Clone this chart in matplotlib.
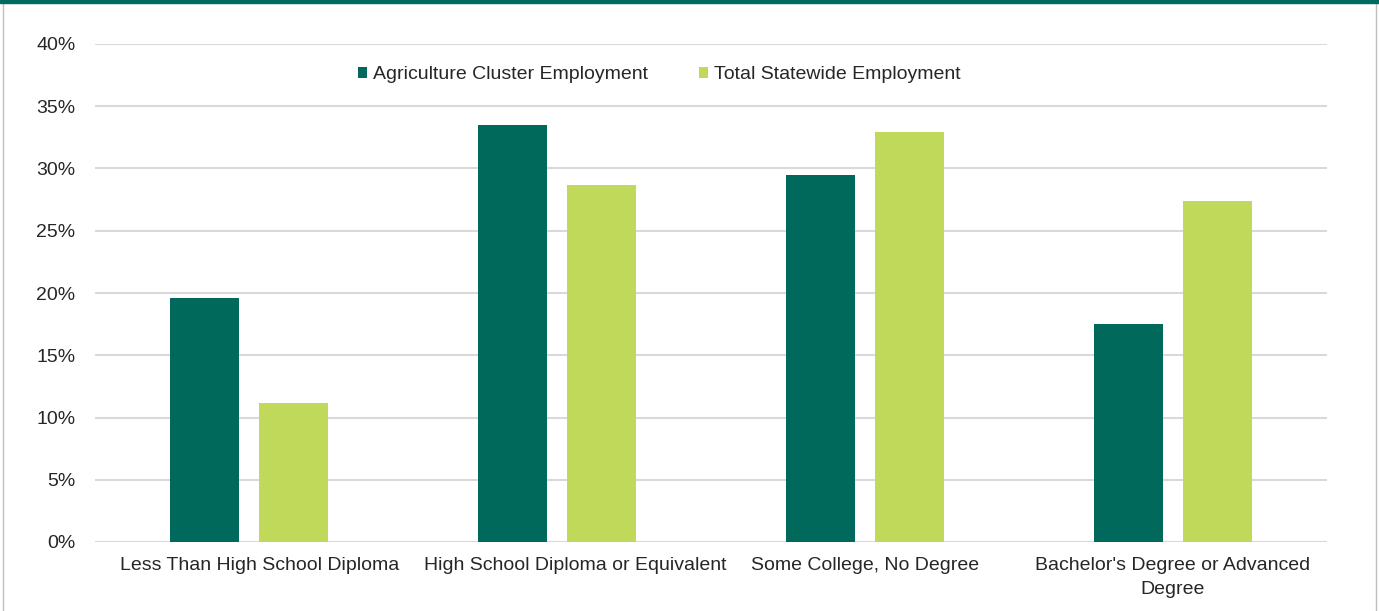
import matplotlib.pyplot as plt
import numpy as np
from matplotlib.ticker import PercentFormatter
from matplotlib.patches import Rectangle
from matplotlib.lines import Line2D
from matplotlib.transforms import ScaledTranslation

plt.rcParams['font.family'] = ['Liberation Sans', 'DejaVu Sans']

categories = ["Less Than High School Diploma", "High School Diploma or Equivalent",
              "Some College, No Degree", "Bachelor's Degree or Advanced\nDegree"]
agriculture = [19.6, 33.5, 29.5, 17.5]
statewide = [11.2, 28.7, 32.9, 27.4]

dark = '#00695B'
light = '#C1D95A'

fig = plt.figure(figsize=(13.79, 6.11), dpi=100)
ax = fig.add_axes([95 / 1379, 69 / 611, 1232 / 1379, 498 / 611])

x = np.arange(len(categories))
w = 0.224
off = 0.143
ax.bar(x - off, agriculture, w, color=dark, label="Agriculture Cluster Employment", zorder=3)
ax.bar(x + off, statewide, w, color=light, label="Total Statewide Employment", zorder=3)

ax.set_xlim(-0.5, len(categories) - 0.5)
ax.set_ylim(0, 40)
ax.set_yticks(np.arange(0, 41, 5))
ax.yaxis.set_major_formatter(PercentFormatter(decimals=0))
ax.set_xticks(x)
ax.set_xticklabels(categories, fontsize=14, color='#262626', linespacing=1.55)
ax.tick_params(axis='y', labelsize=14, labelcolor='#262626', length=0, pad=14)
ax.tick_params(axis='x', length=0, pad=10.5)
# the first two labels sit a bit right of their group centre in the original
for lbl, dx in zip(ax.get_xticklabels(), [0.11, 0.18, 0, 0]):
    lbl.set_transform(lbl.get_transform() + ScaledTranslation(dx, 0, fig.dpi_scale_trans))
ax.grid(axis='y', color='#d9d9d9', linewidth=1.5, zorder=0)
for s in ax.spines.values():
    s.set_visible(False)
ax.axhline(0, color='#d9d9d9', linewidth=1.5, zorder=1)

ax.legend(loc='center', bbox_to_anchor=(0.458, 0.938), ncol=2, frameon=False,
          fontsize=14, handlelength=0.5, handleheight=0.5, handletextpad=0.3,
          columnspacing=2.6, labelcolor='#262626')

# frame around the figure
fig.add_artist(Rectangle((0, 0.995), 1, 0.005, transform=fig.transFigure, color='#006B5E', zorder=5))
fig.add_artist(Line2D([3 / 1379, 3 / 1379], [0, 0.995], transform=fig.transFigure, color='#bfbfbf', linewidth=1))
fig.add_artist(Line2D([1376 / 1379, 1376 / 1379], [0, 0.995], transform=fig.transFigure, color='#bfbfbf', linewidth=1))

fig.savefig('out.png', dpi=100)
